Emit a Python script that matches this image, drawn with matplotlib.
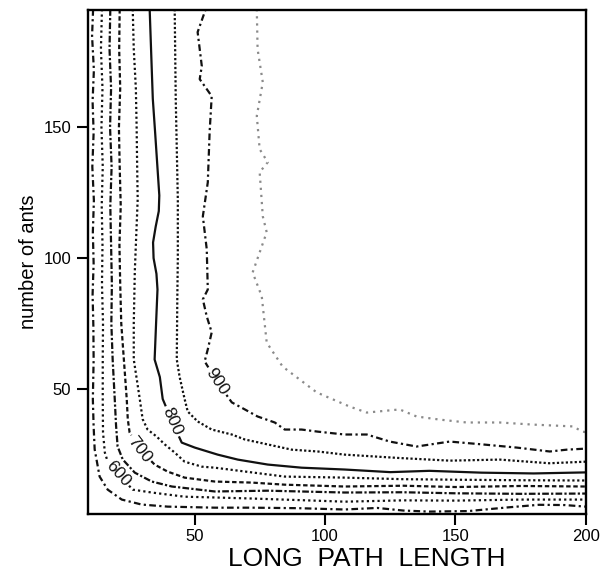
import matplotlib
matplotlib.use('Agg')
import matplotlib.pyplot as plt
import numpy as np
from matplotlib.contour import ContourSet

plt.rcParams['font.family'] = ['Liberation Sans', 'DejaVu Sans']

# contour levels and their paths
# (x = long path length, y = number of ants)
levels = [550, 600, 650, 700, 750, 800, 850, 900, 950]

c550 = [(11.0, 195.3), (10.6, 185), (11.3, 172), (10.8, 160), (11.2, 148),
        (10.7, 135), (11.3, 122), (10.9, 110), (11.2, 98), (10.8, 86),
        (11.1, 74), (11.2, 61.2), (10.9, 46), (11.2, 35.6), (11.6, 26.8),
        (13.5, 16.4), (16.6, 11.4), (22.0, 7.6), (29.6, 5.7), (39.6, 4.9),
        (57.7, 4.5), (71.9, 4.5), (90, 4.3), (107.5, 3.8), (120, 4.4),
        (130, 3.4), (140, 3.0), (155, 3.2), (170, 4.6), (182, 5.6),
        (192, 5.5), (200, 4.9)]
c600 = [(14.4, 195.3), (14.0, 180), (14.6, 165), (14.2, 150), (14.7, 135),
        (14.3, 120), (14.6, 105), (14.4, 90), (14.8, 75), (14.7, 61.2),
        (14.7, 46.1), (14.8, 33.3), (15.5, 25.6), (16.6, 22.1), (20.5, 17.5),
        (26.2, 11.4), (33.5, 10.3), (46.1, 8.7), (57.7, 8.4), (71.9, 8.0),
        (90, 7.4), (107.5, 6.8), (130, 7.3), (150, 7.2), (175, 7.6),
        (200, 7.6)]
c650 = [(17.6, 195.3), (17.3, 180), (17.9, 165), (17.5, 150), (18.1, 135),
        (17.6, 120), (17.9, 105), (18.2, 90), (18.0, 75), (18.5, 61.2),
        (19.3, 46.1), (19.8, 36), (20.4, 27.9), (22.4, 22.9), (27.0, 17.9),
        (33.5, 14.5), (41.2, 12.6), (57.7, 10.7), (78.0, 11.0), (107.5, 10.3),
        (130, 10.4), (150, 10.0), (175, 9.8), (200, 9.9)]
c700 = [(21.2, 195.3), (21.0, 180), (21.4, 165), (20.9, 150), (21.2, 135),
        (21.6, 120), (21.1, 105), (21.4, 90), (21.8, 75), (22.8, 61.2),
        (23.9, 46.1), (24.3, 38.4), (25.0, 33.3), (28.9, 26.8), (34.6, 21.0),
        (39.6, 18.3), (46.1, 16.0), (57.7, 14.5), (71.9, 14.1), (84.5, 13.3),
        (107.5, 12.6), (130, 12.9), (150, 12.4), (175, 12.8), (200, 12.6)]
c750 = [(26.2, 195.3), (26.6, 180), (27.4, 165), (27.7, 150), (27.9, 135),
        (28.1, 122.5), (27.6, 110), (27.0, 95), (26.6, 75), (26.6, 61.2),
        (28.9, 46.1), (30.0, 38.4), (31.9, 34.4), (35.4, 31.7), (38.5, 28.7),
        (42.3, 25.6), (46.1, 22.1), (52.7, 20.2), (57.7, 19.8), (71.9, 18.0),
        (84.5, 16.4), (107.5, 16.0), (130, 15.4), (150, 15.2), (175, 15.0),
        (200, 14.9)]
c800 = [(32.7, 195.3), (33.3, 178), (33.9, 161), (34.8, 148), (35.6, 136),
        (36.4, 124), (36.2, 118), (35.0, 112), (34.0, 106), (34.2, 100),
        (35.3, 94), (35.7, 88), (35.2, 76), (34.6, 61.2), (36.6, 54.5),
        (37.7, 46.1), (41.3, 37.5), (45.0, 29.4), (50.0, 27.5), (58.8, 24.8),
        (66.5, 22.9), (78.0, 21.0), (91.0, 19.8), (107.5, 19.1), (125, 18.1),
        (140, 18.6), (160, 17.9), (180, 17.6), (200, 18.0)]
c850 = [(42.3, 195.3), (42.5, 178), (42.7, 161), (43.1, 142), (43.5, 122.5),
        (43.5, 100), (43.3, 84.2), (43.1, 61.2), (44.2, 54.5), (46.1, 46.1),
        (47.3, 41.3), (51.1, 37.5), (56.5, 34.4), (64.2, 32.5), (69.2, 30.6),
        (78.0, 28.7), (87.2, 26.7), (97.2, 26.0), (107.5, 24.8), (128.6, 23.5),
        (147.8, 22.5), (167, 22.9), (186, 21.5), (200, 22.1)]
c900 = [(54.2, 195.3), (51.1, 186.5), (52.7, 173.5), (51.9, 168.5), (56.5, 162),
        (55.7, 148.2), (55.0, 129), (53.1, 116), (54.6, 103.4), (55.0, 88),
        (53.1, 84.2), (54.6, 77.7), (56.5, 71.6), (55.0, 65.1), (53.8, 60.5),
        (58.5, 52.8), (64.2, 44.8), (69.2, 42.1), (74.1, 39.4), (80.7, 37.1),
        (84.5, 34.4), (91.0, 34.4), (97.2, 33.6), (107.5, 32.5), (116, 32.5),
        (124.8, 29.8), (135.1, 27.9), (147.8, 29.8), (160.5, 28.7),
        (173.5, 27.5), (186.2, 26.0), (192.7, 26.7), (200, 27.1)]
c950 = [(73.8, 195.3), (74.1, 180), (76.1, 167.3), (73.8, 154.4), (74.9, 141.7),
        (78.0, 136.7), (74.9, 132.9), (76.1, 116), (77.6, 109.9), (72.2, 94.5),
        (75.7, 85.4), (77.6, 67.7), (83.7, 58.5), (96.8, 48.6), (109.4, 43.2),
        (116, 40.9), (128.6, 42.1), (135.1, 39.4), (144, 38.2), (154.3, 37.1),
        (167, 37.1), (179.6, 36.3), (195, 35.6), (198.8, 33.6), (200, 33.4)]

paths = [c550, c600, c650, c700, c750, c800, c850, c900, c950]

# labels sit on the 600, 700, 800 and 900 lines
label_at = [(20.5, 17.5), (28.9, 26.8), (41.3, 37.5), (58.5, 52.8)]

colors = ['#111111'] * 8 + ['#8a8a8a']
styles = [(0, (3, 1.5, 1, 1.5)), (0, (1, 1.4)), (0, (3, 1, 1, 1)),
          (0, (2, 1.2)), (0, (1, 1.2)), 'solid', (0, (1, 1)),
          (0, (1, 1.5, 3, 1.5)), (0, (1, 2.2))]


def main():
    fig = plt.figure(figsize=(6.02, 5.83), dpi=100)
    ax = fig.add_axes([0.146, 0.118, 0.827, 0.865])
    ax.set_xlim(9, 200)
    ax.set_ylim(2, 195)

    allsegs = [[np.array(p)] for p in paths]
    cs = ContourSet(ax, levels, allsegs, colors=colors,
                    linestyles=styles, linewidths=1.6)
    ax.clabel(cs, manual=label_at, inline=True,
              inline_spacing=2, fmt='%d', fontsize=12.5)

    ax.set_xticks([50, 100, 150, 200])
    ax.set_yticks([50, 100, 150])
    ax.tick_params(direction='out', length=8, width=1.5, labelsize=12)
    ax.tick_params(axis='x', pad=2.5)
    ax.tick_params(axis='y', pad=4)
    for sp in ax.spines.values():
        sp.set_linewidth(1.7)

    ax.set_ylabel('number of ants', fontsize=14.5)
    ax.yaxis.set_label_coords(-0.10, 0.5)
    ax.set_xlabel('LONG  PATH  LENGTH', fontsize=19)
    ax.xaxis.set_label_coords(0.56, -0.066)

    fig.savefig('out.png', dpi=100)
    plt.close(fig)


if __name__ == '__main__':
    main()
